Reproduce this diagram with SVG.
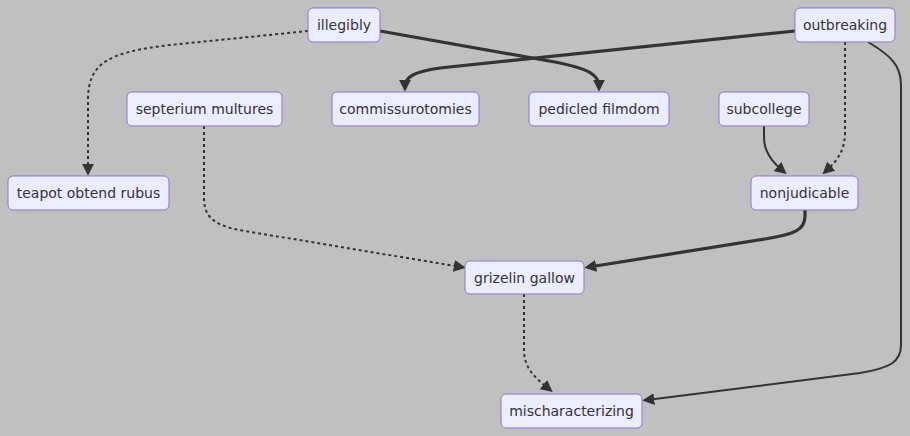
<svg xmlns="http://www.w3.org/2000/svg" width="910" height="436" viewBox="0 0 910 436">
<style>
.node rect{fill:#ececff;stroke:#9370db;stroke-width:1}
.node text{font-family:"DejaVu Sans",sans-serif;font-size:14px;fill:#333;text-anchor:middle}
.e{fill:none;stroke:#333;stroke-width:2}
.thick{stroke-width:3.2}
.dot{stroke-dasharray:3 3}
</style>
<defs>
<marker id="ah" viewBox="0 0 10 10" refX="6" refY="5" markerWidth="12" markerHeight="12" markerUnits="userSpaceOnUse" orient="auto">
<path d="M0,0 L10,5 L0,10 z" fill="#333"/>
</marker>
</defs>
<rect width="910" height="436" fill="#c0c0c0"/>
<g id="connectors">
<path class="e dot" d="M308,31 L170,45 C110,52 88,62 88,100 L88,171" marker-end="url(#ah)"/>
<path class="e thick" d="M380,31 L555,62 C590,69 599,75 599,87" marker-end="url(#ah)"/>
<path class="e thick" d="M795,31 L440,68 C413,72 405,77 405,87" marker-end="url(#ah)"/>
<path class="e dot" d="M845,42 L845,132 C845,150 838,160 826,171" marker-end="url(#ah)"/>
<path class="e" d="M764,126 L764,138 C764,152 772,162 783,171" marker-end="url(#ah)"/>
<path class="e" d="M868,42 C890,55 901,65 901,85 L901,345 C901,362 890,368 860,373 L647,400" marker-end="url(#ah)"/>
<path class="e dot" d="M204,126 L204,198 C204,218 215,226 245,231 L461,267" marker-end="url(#ah)"/>
<path class="e thick" d="M805,210 L805,216 C805,230 795,234 765,239 L589,267" marker-end="url(#ah)"/>
<path class="e dot" d="M524,294 L524,350 C524,368 535,378 549,389" marker-end="url(#ah)"/>
</g>
<g id="n-illegibly" class="node"><rect x="308" y="8" width="72" height="34" rx="5"/><text x="344" y="30">illegibly</text></g>
<g id="n-outbreaking" class="node"><rect x="795" y="8" width="100" height="34" rx="5"/><text x="845" y="30">outbreaking</text></g>
<g id="n-septerium" class="node"><rect x="127" y="92" width="155" height="34" rx="5"/><text x="204.5" y="114">septerium multures</text></g>
<g id="n-commissurotomies" class="node"><rect x="332" y="92" width="147" height="34" rx="5"/><text x="405.5" y="114">commissurotomies</text></g>
<g id="n-pedicled" class="node"><rect x="529" y="92" width="140" height="34" rx="5"/><text x="599" y="114">pedicled filmdom</text></g>
<g id="n-subcollege" class="node"><rect x="719" y="92" width="90" height="34" rx="5"/><text x="764" y="114">subcollege</text></g>
<g id="n-teapot" class="node"><rect x="8" y="176" width="161" height="34" rx="5"/><text x="88.5" y="198">teapot obtend rubus</text></g>
<g id="n-nonjudicable" class="node"><rect x="751" y="176" width="107" height="34" rx="5"/><text x="804.5" y="198">nonjudicable</text></g>
<g id="n-grizelin" class="node"><rect x="465" y="261" width="119" height="33" rx="5"/><text x="524.5" y="282.5">grizelin gallow</text></g>
<g id="n-mischar" class="node"><rect x="501" y="394" width="141" height="34" rx="5"/><text x="571.5" y="416">mischaracterizing</text></g>
</svg>
